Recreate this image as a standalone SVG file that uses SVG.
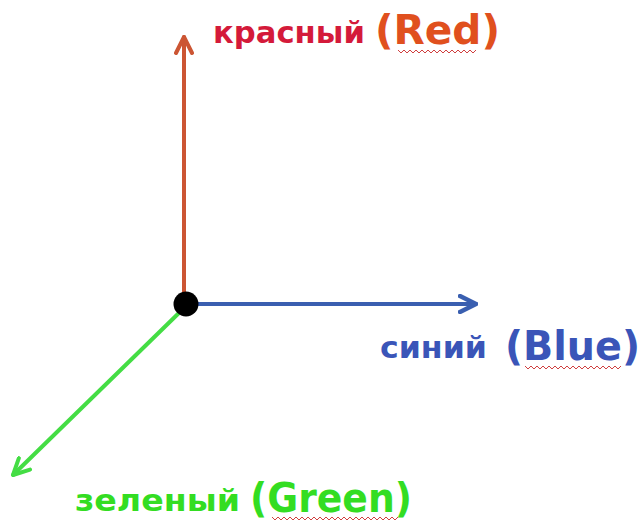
<svg xmlns="http://www.w3.org/2000/svg" width="644" height="523" viewBox="0 0 644 523">
  <style>
    .lbl { font-family: "DejaVu Sans", "Liberation Sans", sans-serif; font-weight: bold; }
    .axis { fill: none; stroke-width: 4; stroke-linecap: round; }
    .squig { fill: none; stroke: #d04040; stroke-width: 1; }
  </style>
  <defs>
    <marker id="headRed" viewBox="0 0 10 10" refX="9" refY="5" markerWidth="5" markerHeight="5" orient="auto" markerUnits="strokeWidth">
      <path d="M1,1 L9,5 L1,9" fill="none" stroke="#cc5533" stroke-width="2" stroke-linecap="round" stroke-linejoin="round"/>
    </marker>
    <marker id="headBlue" viewBox="0 0 10 10" refX="9" refY="5" markerWidth="5" markerHeight="5" orient="auto" markerUnits="strokeWidth">
      <path d="M1,1 L9,5 L1,9" fill="none" stroke="#3a5fb0" stroke-width="2.2" stroke-linecap="round" stroke-linejoin="round"/>
    </marker>
    <marker id="headGreen" viewBox="0 0 10 10" refX="9" refY="5" markerWidth="5" markerHeight="5" orient="auto" markerUnits="strokeWidth">
      <path d="M1,1 L9,5 L1,9" fill="none" stroke="#44dd44" stroke-width="2" stroke-linecap="round" stroke-linejoin="round"/>
    </marker>
  </defs>
  <rect width="644" height="523" fill="#ffffff"/>

  <g id="connectors">
    <line class="axis" x1="184" y1="300" x2="184" y2="37" stroke="#cc5533" stroke-width="3.5" marker-end="url(#headRed)"/>
    <line class="axis" x1="190" y1="304" x2="476" y2="304" stroke="#3a5fb0" stroke-width="5" marker-end="url(#headBlue)"/>
    <line class="axis" x1="182" y1="310" x2="13" y2="475" stroke="#44dd44" stroke-width="3.5" marker-end="url(#headGreen)"/>
  </g>

  <g id="origin">
    <circle cx="186" cy="304" r="12.5" fill="#000000"/>
  </g>

  <g id="red-label">
    <text class="lbl" x="213" y="43" font-size="30" fill="#d41a3a" textLength="152" lengthAdjust="spacingAndGlyphs">красный</text>
    <text class="lbl" x="375" y="44" font-size="40" fill="#e0501e" textLength="125" lengthAdjust="spacingAndGlyphs">(Red)</text>
    <path class="squig" d="M398,50 l3,3 l3,-3 l3,3 l3,-3 l3,3 l3,-3 l3,3 l3,-3 l3,3 l3,-3 l3,3 l3,-3 l3,3 l3,-3 l3,3 l3,-3 l3,3 l3,-3 l3,3 l3,-3 l3,3 l3,-3 l3,3 l3,-3 l3,3 l3,-3"/>
  </g>

  <g id="blue-label">
    <text class="lbl" x="380" y="358" font-size="30" fill="#3a55b8" textLength="107" lengthAdjust="spacingAndGlyphs">синий</text>
    <text class="lbl" x="505" y="360" font-size="40" fill="#3a55b8" textLength="135" lengthAdjust="spacingAndGlyphs">(Blue)</text>
    <path class="squig" d="M525,366 l3,3 l3,-3 l3,3 l3,-3 l3,3 l3,-3 l3,3 l3,-3 l3,3 l3,-3 l3,3 l3,-3 l3,3 l3,-3 l3,3 l3,-3 l3,3 l3,-3 l3,3 l3,-3 l3,3 l3,-3 l3,3 l3,-3 l3,3 l3,-3 l3,3 l3,-3 l3,3 l3,-3 l3,3 l3,-3"/>
  </g>

  <g id="green-label">
    <text class="lbl" x="75" y="511" font-size="30" fill="#33dd22" textLength="165" lengthAdjust="spacingAndGlyphs">зеленый</text>
    <text class="lbl" x="250" y="512" font-size="40" fill="#33dd22" textLength="162" lengthAdjust="spacingAndGlyphs">(Green)</text>
    <path class="squig" d="M272,517 l3,3 l3,-3 l3,3 l3,-3 l3,3 l3,-3 l3,3 l3,-3 l3,3 l3,-3 l3,3 l3,-3 l3,3 l3,-3 l3,3 l3,-3 l3,3 l3,-3 l3,3 l3,-3 l3,3 l3,-3 l3,3 l3,-3 l3,3 l3,-3 l3,3 l3,-3 l3,3 l3,-3 l3,3 l3,-3 l3,3 l3,-3 l3,3 l3,-3 l3,3 l3,-3 l3,3 l3,-3 l3,3 l3,-3"/>
  </g>
</svg>
